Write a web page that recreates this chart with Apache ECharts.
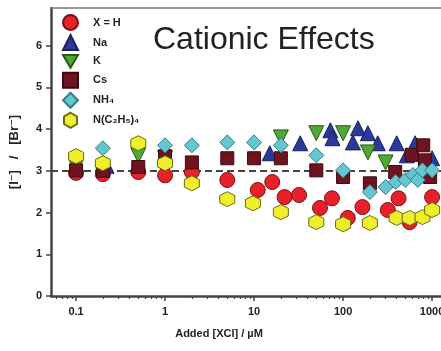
<!DOCTYPE html>
<html lang="en">
<head>
<meta charset="UTF-8">
<title>Cationic Effects</title>
<script src="https://cdn.jsdelivr.net/npm/echarts@6/dist/echarts.min.js"></script>
<style>
    html, body { margin: 0; padding: 0; background: #fff; }
    #chart { width: 441px; height: 351px; }
</style>
</head>
<body>
<div id="chart"></div>
<script>
// values: x = added [XCl] (uM), y = [I-]/[Br-]
const hX = [0.1, 0.2, 0.5, 1, 2, 5, 11, 16, 22, 32, 55, 75, 113, 165, 318, 420, 560, 1000];
const hY = [2.95, 2.92, 2.97, 2.89, 2.97, 2.78, 2.54, 2.73, 2.37, 2.42, 2.11, 2.34, 1.87, 2.13, 2.06, 2.34, 1.77, 2.37];
const naX = [0.22, 15, 33, 72, 76, 129, 147, 190, 245, 400, 520, 645, 1000];
const naY = [3.12, 3.42, 3.66, 3.97, 3.78, 3.68, 4.02, 3.90, 3.66, 3.66, 3.37, 3.66, 3.30];
const kX = [0.1, 0.5, 1, 20, 50, 100, 190, 300];
const kY = [3.10, 3.37, 3.30, 3.80, 3.90, 3.90, 3.44, 3.20];
const csX = [0.1, 0.2, 0.5, 1, 2, 5, 10, 20, 50, 100, 200, 385, 590, 795, 830, 950];
const csY = [3.01, 3.00, 3.09, 3.35, 3.20, 3.30, 3.30, 3.30, 3.01, 2.85, 2.70, 2.97, 3.38, 3.61, 3.25, 2.85];
const nhX = [0.2, 1, 2, 5, 10, 20, 50, 100, 200, 300, 390, 500, 610, 690, 780, 1000];
const nhY = [3.54, 3.61, 3.61, 3.68, 3.68, 3.61, 3.37, 3.01, 2.49, 2.61, 2.73, 2.78, 2.90, 2.78, 3.01, 3.01];
const etX = [0.1, 0.2, 0.5, 1, 2, 5, 9.7, 20, 50, 100, 200, 400, 560, 780, 1000];
const etY = [3.35, 3.18, 3.66, 3.18, 2.70, 2.32, 2.22, 2.01, 1.77, 1.72, 1.75, 1.87, 1.87, 1.89, 2.06];

const seriesNames = ['X = H', 'Na', 'K', 'Cs', 'NH\u2084', 'N(C\u2082H\u2085)\u2084'];
const xLabels = [0.1, 1, 10, 100, 1000];
const yLabels = [0, 1, 2, 3, 4, 5, 6];
const refLine = 3;

// minor ticks 2..9 for every decade
const minorTicks = [];
[0.01, 0.1, 1, 10, 100, 1000].forEach(function (d) {
    for (let i = 2; i <= 9; i++) minorTicks.push(+(d * i).toPrecision(3));
});

const hexagon = 'path://M0,-10L8.66,-5L8.66,5L0,10L-8.66,5L-8.66,-5Z';
const downTriangle = 'path://M0,0L20,0L10,17Z';

function pairs(xs, ys) {
    return xs.map(function (x, i) { return [x, ys[i]]; });
}

const styles = [
    { symbol: 'circle', fill: '#e8202a', border: '#7a1212' },
    { symbol: 'triangle', fill: '#2b3a9a', border: '#18205e' },
    { symbol: downTriangle, fill: '#4fa834', border: '#2a5a1a' },
    { symbol: 'rect', fill: '#6e1420', border: '#3a0a10' },
    { symbol: 'diamond', fill: '#66c6cf', border: '#2e7f88' },
    { symbol: hexagon, fill: '#eeee2a', border: '#6a6a10' }
];
const allData = [pairs(hX, hY), pairs(naX, naY), pairs(kX, kY), pairs(csX, csY), pairs(nhX, nhY), pairs(etX, etY)];

const series = allData.map(function (d, i) {
    return {
        name: seriesNames[i],
        type: 'scatter',
        z: 3,
        data: d,
        symbol: styles[i].symbol,
        symbolSize: i === 3 ? 13 : 15,
        itemStyle: { color: styles[i].fill, borderColor: styles[i].border, borderWidth: 1, opacity: 1 }
    };
});
// dashed reference line at y = 3, kept under the markers
series.push({
    name: 'ref',
    type: 'scatter',
    z: 1,
    data: [],
    markLine: {
        z: 1,
        silent: true,
        symbol: 'none',
        label: { show: false },
        lineStyle: { color: '#444', type: [7, 4], width: 2 },
        data: [{ yAxis: refLine }]
    }
});

const fontBold = { fontFamily: 'Liberation Sans, Arial, DejaVu Sans, sans-serif', fontWeight: 'bold', color: '#222' };

const option = {
    animation: false,
    title: {
        text: 'Cationic Effects',
        left: 148, top: 19,
        textStyle: { fontFamily: 'Liberation Sans, Arial, sans-serif', fontWeight: 'normal', fontSize: 32, color: '#222' }
    },
    legend: {
        orient: 'vertical',
        left: 62, top: 14, padding: 0,
        itemWidth: 15, itemHeight: 15, itemGap: 3,
        data: seriesNames,
        textStyle: Object.assign({ fontSize: 11, padding: [0, 0, 0, 10] }, fontBold)
    },
    grid: { left: 51, top: 8, right: 0, bottom: 55, containLabel: false, outerBoundsMode: 'none' },
    xAxis: [{
        type: 'log',
        min: 0.0523, max: 1259,
        name: 'Added [XCl] / \u00b5M',
        nameLocation: 'middle', nameGap: 32,
        nameTextStyle: Object.assign({ fontSize: 11, padding: [0, 54, 0, 0] }, fontBold),
        axisLine: { lineStyle: { color: '#444', width: 2.5 } },
        axisTick: { customValues: xLabels, length: 5, lineStyle: { color: '#444', width: 1.5 } },
        axisLabel: { customValues: xLabels, margin: 10, fontSize: 11, fontFamily: fontBold.fontFamily, fontWeight: 'bold', color: '#222',
            formatter: function (v) { return String(v); } },
        splitLine: { show: false }
    }, {
        type: 'log',
        min: 0.0523, max: 1259,
        position: 'bottom',
        axisLine: { show: false },
        axisTick: { customValues: minorTicks, length: 3, lineStyle: { color: '#444', width: 1.2 } },
        axisLabel: { show: false },
        splitLine: { show: false }
    }, {
        // top frame line
        type: 'log',
        min: 0.0523, max: 1259,
        position: 'top',
        axisLine: { lineStyle: { color: '#777', width: 1.5 } },
        axisTick: { show: false },
        axisLabel: { show: false },
        splitLine: { show: false }
    }],
    yAxis: {
        type: 'value',
        min: 0, max: 6.9,
        name: '[I\u207b]   /   [Br\u207b]',
        nameLocation: 'middle', nameGap: 30, nameRotate: 90,
        nameTextStyle: Object.assign({ fontSize: 13 }, fontBold),
        axisLine: { lineStyle: { color: '#444', width: 2.5 } },
        axisTick: { customValues: yLabels, length: 5, lineStyle: { color: '#444', width: 1.5 } },
        axisLabel: { customValues: yLabels, margin: 9, fontSize: 11, fontFamily: fontBold.fontFamily, fontWeight: 'bold', color: '#222' },
        splitLine: { show: false }
    },
    series: series
};

const myChart = echarts.init(document.getElementById('chart'), null, { renderer: 'canvas' });
myChart.setOption(option);
</script>
</body>
</html>
